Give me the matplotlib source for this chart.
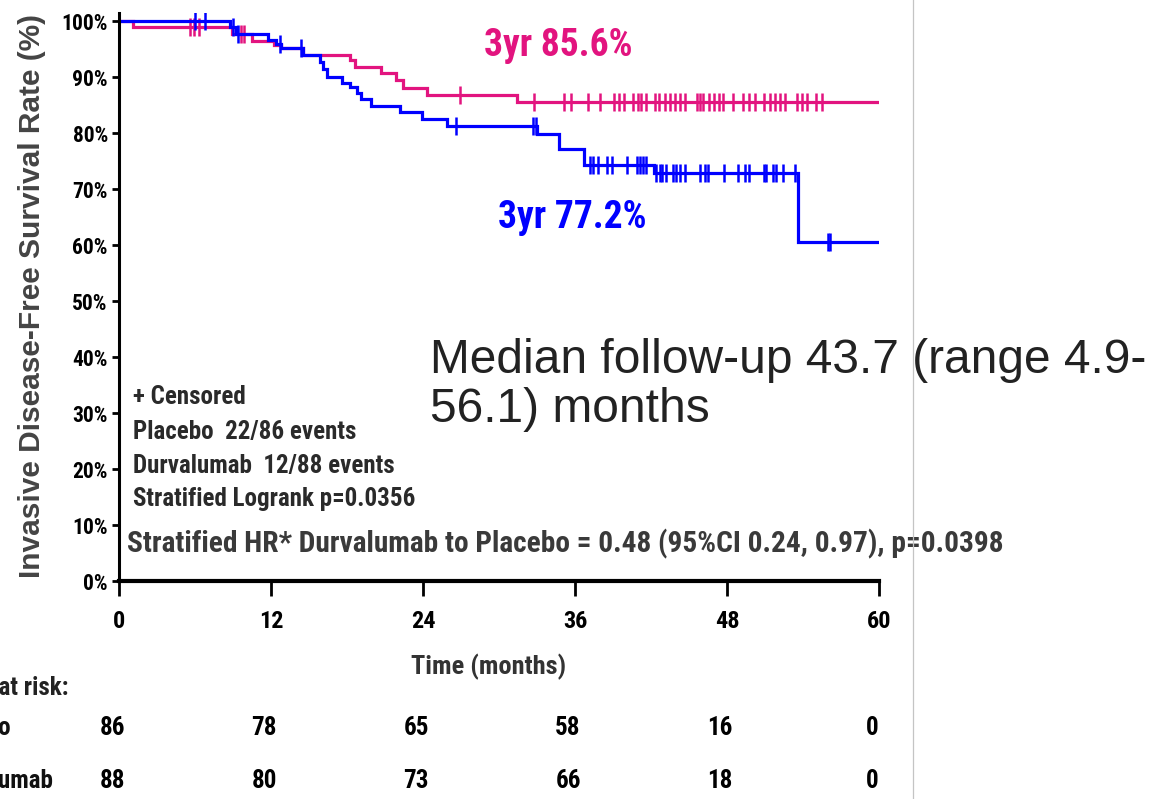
#!/usr/bin/env python3

# Kaplan-Meier plot of invasive disease-free survival, durvalumab vs placebo,
# with censor ticks and the number-at-risk table underneath.

import numpy as np
import matplotlib
matplotlib.use("Agg")
from matplotlib import pyplot as plt
from matplotlib.lines import Line2D

# survival steps (months, % event-free after the step)
durva_times = [0, 1.1, 8.9, 10.5, 12.2, 12.8, 14.5, 18.2, 18.6, 20.7, 21.9, 22.4, 24.3, 31.4]
durva_surv = [100, 98.9, 97.7, 96.4, 95.7, 95.1, 93.9, 93.0, 91.8, 90.7, 89.5, 88.1, 86.8, 85.6]

placebo_times = [0, 8.8, 9.2, 11.8, 12.4, 12.8, 14.5, 15.9, 16.1, 16.4, 17.6, 18.2, 18.8,
                 19.1, 19.9, 22.2, 23.9, 25.9, 33.0, 34.7, 36.7, 42.2, 53.6]
placebo_surv = [100, 98.9, 97.6, 96.6, 95.9, 95.1, 93.9, 92.7, 91.4, 90.0, 89.0, 88.2, 87.1,
                86.1, 84.8, 83.7, 82.5, 81.2, 79.8, 77.2, 74.3, 72.8, 60.6]

durva_censor = [5.6, 5.9, 6.3, 9.6, 9.9, 26.9, 32.8, 35.1, 35.7, 37.0, 38.0, 39.1, 39.5, 39.9,
                40.6, 41.0, 41.2, 41.6, 42.3, 42.6, 43.1, 43.5, 43.9, 44.3, 44.7, 45.6, 45.9,
                46.1, 46.6, 47.0, 47.4, 47.7, 48.5, 49.3, 49.7, 50.2, 50.9, 51.4, 51.8, 52.2,
                52.6, 53.5, 53.9, 54.3, 55.0, 55.5]
placebo_censor = [6.0, 6.8, 9.0, 9.4, 12.7, 14.4, 26.6, 32.7, 32.9, 37.2, 37.4, 37.8, 38.5, 38.9,
                  40.1, 40.9, 41.1, 41.4, 41.6, 42.4, 42.7, 42.9, 43.2, 43.7, 44.0, 44.3, 44.7,
                  45.9, 46.3, 46.5, 47.8, 48.9, 49.4, 49.7, 50.9, 51.1, 51.6, 51.9, 52.4, 53.4,
                  56.0, 56.1]

risk_months = [0, 12, 24, 36, 48, 60]
risk_placebo = [86, 78, 65, 58, 16, 0]
risk_durva = [88, 80, 73, 66, 18, 0]

yticks = [0, 10, 20, 30, 40, 50, 60, 70, 80, 90, 100]

PINK = "#e2147f"
BLUE = "#0000ff"
NARROW = ["Roboto Condensed", "DejaVu Sans"]
ARIAL = ["Liberation Sans", "DejaVu Sans"]

W, H = 1166, 799


def fx(x):
    return x / W


def fy(y):
    return 1 - y / H


def level_at(times, surv, t):
    i = np.searchsorted(times, t, side="right") - 1
    return surv[i]


fig = plt.figure(figsize=(W / 100, H / 100), dpi=100)
ax = fig.add_axes([fx(119), fy(581), fx(879) - fx(119), fy(12.6) - fy(581)])

for times, surv, cens, col in [(durva_times, durva_surv, durva_censor, PINK),
                               (placebo_times, placebo_surv, placebo_censor, BLUE)]:
    tt = list(times) + [60]
    ss = list(surv) + [surv[-1]]
    ax.step(tt, ss, where="post", color=col, lw=2.3, solid_joinstyle="miter")
    cy = [level_at(times, surv, c) for c in cens]
    ax.plot(cens, cy, ls="none", marker="|", ms=13, mew=1.8, color=col)

ax.set_xlim(0, 60)
ax.set_ylim(0, 101.5)
ax.set_xticks(risk_months)
ax.set_yticks(yticks)
ax.set_yticklabels([f"{v}%" for v in yticks])

for s in ["top", "right"]:
    ax.spines[s].set_visible(False)
ax.spines["left"].set_linewidth(2.2)
ax.spines["bottom"].set_linewidth(3.0)
ax.tick_params(axis="y", length=5, width=2, pad=3, labelsize=15.5)
ax.tick_params(axis="x", length=11, width=2, pad=10, labelsize=17.5)
for lab in ax.get_xticklabels() + ax.get_yticklabels():
    lab.set_family(NARROW)
    lab.set_fontweight("bold")

# annotations inside the plot
ax.text(34.7, 95.7, "3yr 85.6%", color=PINK, fontsize=27, family=NARROW,
        fontweight="bold", ha="center", va="center")
ax.text(35.8, 64.9, "3yr 77.2%", color=BLUE, fontsize=27, family=NARROW,
        fontweight="bold", ha="center", va="center")
ax.text(24.55, 35.0, "Median follow-up 43.7 (range 4.9-\n56.1) months", color="#222222",
        fontsize=34.5, family=ARIAL, ha="left", va="center", linespacing=1.1)

legend_lines = ["+ Censored", "Placebo  22/86 events", "Durvalumab  12/88 events",
                "Stratified Logrank p=0.0356"]
for txt, yv in zip(legend_lines, [32.8, 26.6, 20.5, 14.6]):
    ax.text(1.1, yv, txt, color="#2a2a2a", fontsize=18, family=NARROW,
            fontweight="bold", ha="left", va="center")
ax.text(0.65, 6.6, "Stratified HR* Durvalumab to Placebo = 0.48 (95%CI 0.24, 0.97), p=0.0398",
        color="#3a3a3a", fontsize=21.2, family=NARROW, fontweight="bold",
        ha="left", va="center")

# axis titles
fig.text(fx(32), fy(296), "Invasive Disease-Free Survival Rate (%)", rotation=90,
         color="#444444", fontsize=21.5, family=ARIAL, fontweight="bold",
         ha="center", va="center")
fig.text(fx(489), fy(667), "Time (months)", color="#333333", fontsize=19,
         family=NARROW, fontweight="bold", ha="center", va="center")

# number at risk
fig.text(fx(68), fy(688), "Number at risk:", color="#222222", fontsize=18,
         family=NARROW, fontweight="bold", ha="right", va="center")
fig.text(fx(11), fy(728), "Placebo", color="#111111", fontsize=18,
         family=NARROW, fontweight="bold", ha="right", va="center")
fig.text(fx(53), fy(781), "Durvalumab", color="#111111", fontsize=18,
         family=NARROW, fontweight="bold", ha="right", va="center")
xtr = ax.get_xaxis_transform()
for m, n1, n2 in zip(risk_months, risk_placebo, risk_durva):
    ax.text(m - 0.55, (581 - 728) / (581 - 12.6), str(n1), transform=xtr,
            fontsize=18, family=NARROW, fontweight="bold", ha="center", va="center")
    ax.text(m - 0.55, (581 - 781) / (581 - 12.6), str(n2), transform=xtr,
            fontsize=18, family=NARROW, fontweight="bold", ha="center", va="center")

# thin divider on the right
fig.add_artist(Line2D([fx(913), fx(913)], [0, 1], color="#c4c4c4", lw=0.9))

fig.savefig("out.png", dpi=100)
